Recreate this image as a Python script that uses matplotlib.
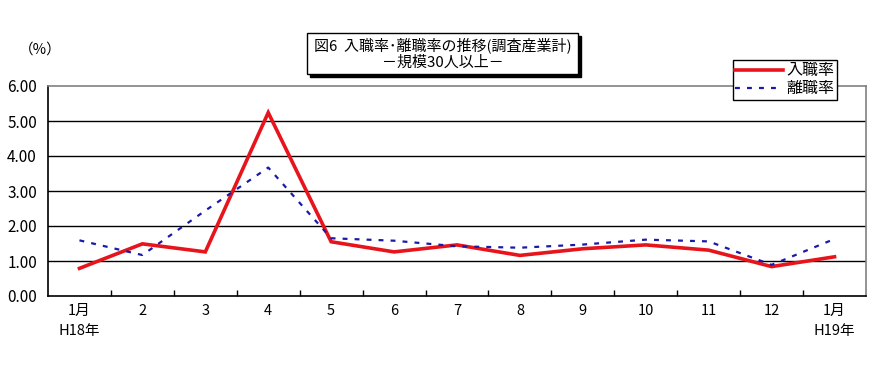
import matplotlib
matplotlib.use("Agg")
import matplotlib.pyplot as plt
from matplotlib.patches import Rectangle

plt.rcParams['font.family'] = ['Noto Sans CJK JP', 'DejaVu Sans']

categories = ["1月\nH18年", "2", "3", "4", "5", "6", "7", "8", "9", "10", "11", "12", "1月\nH19年"]
hire_rate = [0.79, 1.49, 1.26, 5.24, 1.55, 1.26, 1.46, 1.16, 1.35, 1.46, 1.31, 0.84, 1.12]
sep_rate = [1.59, 1.17, 2.44, 3.67, 1.65, 1.58, 1.42, 1.38, 1.47, 1.61, 1.56, 0.89, 1.63]
yticks = [0, 1, 2, 3, 4, 5, 6]
ytick_labels = ["0.00", "1.00", "2.00", "3.00", "4.00", "5.00", "6.00"]

fig = plt.figure(figsize=(8.84, 3.84), dpi=100)
ax = fig.add_axes([48/884, 88/384, 818/884, 210/384])

x = list(range(len(categories)))
ax.plot(x, hire_rate, color='#e8141c', lw=2.6, label='入職率', solid_joinstyle='miter')
ax.plot(x, sep_rate, color='#1a1aa8', lw=1.6, ls=(0, (2.2, 3.2)), label='離職率')

ax.set_xlim(-0.5, len(categories) - 0.5)
ax.set_ylim(0, 6)
ax.set_yticks(yticks)
ax.set_yticklabels(ytick_labels, fontsize=11)
for yv in yticks[1:-1]:
    ax.axhline(yv, color='black', lw=1.0, zorder=0)

ax.set_xticks(x)
ax.set_xticklabels(categories, fontsize=10.5, linespacing=1.5)
ax.set_xticks([i + 0.5 for i in range(len(categories) - 1)], minor=True)
ax.tick_params(axis='x', which='major', length=0, pad=6)
ax.tick_params(axis='x', which='minor', direction='in', length=4, width=1, color='black')
ax.tick_params(axis='y', length=0, pad=8)

for s in ['top', 'right']:
    ax.spines[s].set_color('#808080')
    ax.spines[s].set_linewidth(1.2)
for s in ['left', 'bottom']:
    ax.spines[s].set_color('black')
    ax.spines[s].set_linewidth(1.2)

# y-axis unit label
fig.text(40/884, 1 - 50/384, '（%）', fontsize=10.5, ha='center', va='center')

# Title box with shadow
tx0, ty0, tw, th = 307/884, 1 - 74/384, 271/884, 41/384
shadow = Rectangle((tx0 + 3/884, ty0 - 3/384), tw, th, transform=fig.transFigure,
                   facecolor='black', edgecolor='black', zorder=5)
box = Rectangle((tx0, ty0), tw, th, transform=fig.transFigure,
                facecolor='white', edgecolor='black', lw=1, zorder=6)
fig.patches.extend([shadow, box])
fig.text(tx0 + tw/2, 1 - 45/384, '図6  入職率･離職率の推移(調査産業計)', fontsize=10.8,
         ha='center', va='center', zorder=7)
fig.text(tx0 + tw/2, 1 - 63/384, '－規模30人以上－', fontsize=10.8,
         ha='center', va='center', zorder=7)

leg = ax.legend(loc='upper right', bbox_to_anchor=(837/884, 1 - 60/384),
                bbox_transform=fig.transFigure, fontsize=11.5, frameon=True,
                fancybox=False, edgecolor='black', framealpha=1,
                handlelength=3.0, handletextpad=0.2, borderpad=0.15,
                labelspacing=0.05, borderaxespad=0)
leg.get_frame().set_linewidth(1)

fig.savefig('out.png', dpi=100)
